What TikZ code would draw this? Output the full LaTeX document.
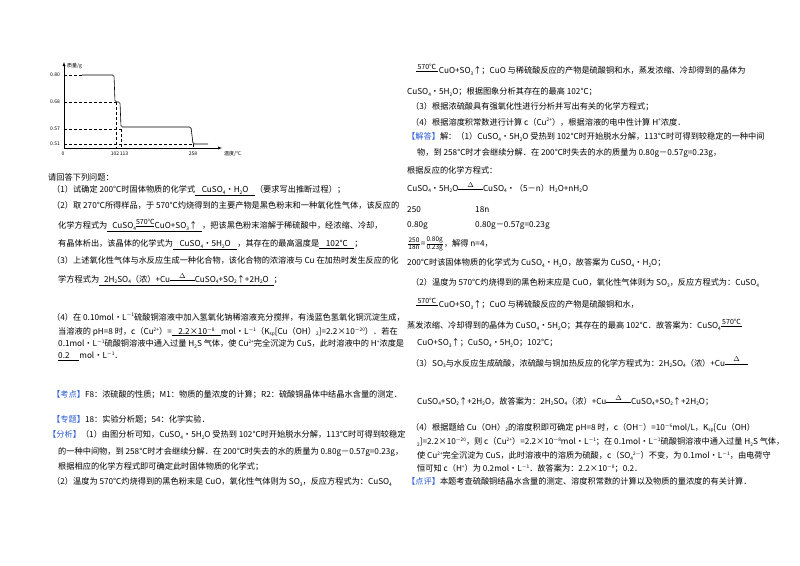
\documentclass[tikz,border=0pt]{standalone}
\usepackage{fontspec}
\setmainfont{Noto Sans CJK SC}
\definecolor{kblue}{RGB}{40,90,210}
\newcommand\sbs[1]{\raisebox{-0.35ex}{\fontsize{4.8}{5}\selectfont #1}}
\newcommand\sps[1]{\raisebox{0.7ex}{\fontsize{4.8}{5}\selectfont #1}}
\newcommand\rxn[2]{\ensuremath{\mathrel{\mathop{\rule[0.4ex]{#2}{0.4pt}}\limits^{\mbox{\fontsize{7}{7}\selectfont #1}}}}}
\newcommand\ul[1]{\underline{\hspace{0.8em}#1\hspace{0.8em}}}
\newcommand\kw[1]{\textcolor{kblue}{#1}}
\begin{document}
\begin{tikzpicture}[x=1pt,y=-1pt,
  t/.style={anchor=west,inner sep=0pt,font=\fontsize{8.2}{9}\selectfont},
  lab/.style={inner sep=0pt,font=\fontsize{5}{5}\selectfont},
  dsh/.style={densely dashed,line width=0.3pt},
  crv/.style={line width=0.6pt,rounded corners=1.5pt}]
\useasboundingbox[fill=white] (0,0) rectangle (800,565);
% graph
\coordinate (O) at (64,148);
\coordinate (yt) at (64,62);
\coordinate (xr) at (222,148);
\draw[-latex,line width=0.4pt] (O) -- (yt);
\draw[-latex,line width=0.4pt] (O) -- (xr);
\node[lab,anchor=west] (ylab) at (67,66) {质量/g};
\node[lab,anchor=north west] (xlab) at (224,151) {温度/℃};
\node[lab,anchor=east] (l80) at (60,75) {0.80};
\node[lab,anchor=east] (l68) at (60,102) {0.68};
\node[lab,anchor=east] (l57) at (60,129) {0.57};
\node[lab,anchor=east] (l51) at (60,144) {0.51};
\node[lab] (x0) at (63,154) {0};
\node[lab] (x102) at (115,154) {102};
\node[lab] (x113) at (124,154) {113};
\node[lab] (x258) at (193,154) {258};
\draw[dsh] (64,75) -- (82,75);
\draw[dsh] (64,102) -- (116,102);
\draw[dsh] (64,129) -- (121,129);
\draw[dsh] (64,144) -- (193,144);
\draw[dsh] (116,102) -- (116,148);
\draw[dsh] (121,129) -- (121,148);
\draw[dsh] (193,144) -- (193,148);
\draw[crv] (82,75) -- (114,75) -- (115,102) -- (120,102) -- (121,127) -- (191,127) -- (193,144) -- (208,144);
% left column
\node[t] (a1) at (48,177) {请回答下列问题：};
\node[t] (a2) at (52,191) {（1）试确定 200℃时固体物质的化学式\ul{CuSO\sbs{4}•H\sbs{2}O}（要求写出推断过程）；};
\node[t] (a3) at (52,205) {（2）取 270℃所得样品，于 570℃灼烧得到的主要产物是黑色粉末和一种氧化性气体，该反应的};
\node[t] (a4) at (58,225) {化学方程式为\underline{\hspace{0.6em}CuSO\sbs{4}\rxn{570℃}{2.2em}CuO+SO\sbs{3}↑\hspace{0.6em}}，把该黑色粉末溶解于稀硫酸中，经浓缩、冷却，};
\node[t] (a5) at (58,245) {有晶体析出，该晶体的化学式为\ul{CuSO\sbs{4}•5H\sbs{2}O}，其存在的最高温度是\ul{102℃}；};
\node[t] (a6) at (52,260) {（3）上述氧化性气体与水反应生成一种化合物，该化合物的浓溶液与 Cu 在加热时发生反应的化};
\node[t] (a7) at (58,279) {学方程式为\underline{\hspace{0.6em}2H\sbs{2}SO\sbs{4}（浓）+Cu\rxn{$\Delta$}{3em}CuSO\sbs{4}+SO\sbs{2}↑+2H\sbs{2}O\hspace{0.6em}}；};
\node[t] (a8) at (52,317) {（4）在 0.10mol•L\sps{－1}硫酸铜溶液中加入氢氧化钠稀溶液充分搅拌，有浅蓝色氢氧化铜沉淀生成，};
\node[t] (a9) at (58,332) {当溶液的 pH=8 时，c（Cu\sps{2+}）=\ul{2.2×10\sps{－8}}mol•L\sps{－1}（K\sbs{sp}[Cu（OH）\sbs{2}]=2.2×10\sps{－20}）．若在};
\node[t] (a10) at (58,344) {0.1mol•L\sps{－1}硫酸铜溶液中通入过量 H\sbs{2}S 气体，使 Cu\sps{2+}完全沉淀为 CuS，此时溶液中的 H\sps{+}浓度是};
\node[t] (a11) at (58,356) {\underline{0.2\hspace{1.2em}}mol•L\sps{－1}．};
\node[t] (a12) at (52,395) {\kw{【考点】}F8：浓硫酸的性质；M1：物质的量浓度的计算；R2：硫酸铜晶体中结晶水含量的测定．};
\node[t] (a13) at (52,420) {\kw{【专题】}18：实验分析题；54：化学实验．};
\node[t] (a14) at (48,435) {\kw{【分析】}（1）由图分析可知，CuSO\sbs{4}•5H\sbs{2}O 受热到 102℃时开始脱水分解，113℃时可得到较稳定};
\node[t] (a15) at (58,452) {的一种中间物，到 258℃时才会继续分解．在 200℃时失去的水的质量为 0.80g－0.57g=0.23g，};
\node[t] (a16) at (58,467) {根据相应的化学方程式即可确定此时固体物质的化学式；};
\node[t] (a17) at (52,482) {（2）温度为 570℃灼烧得到的黑色粉末是 CuO，氧化性气体则为 SO\sbs{3}，反应方程式为：CuSO\sbs{4}};
% right column
\node[t] (b1) at (416,69) {\rxn{570℃}{2.6em}\,CuO+SO\sbs{3}↑；CuO 与稀硫酸反应的产物是硫酸铜和水，蒸发浓缩、冷却得到的晶体为};
\node[t] (b2) at (407,92) {CuSO\sbs{4}•5H\sbs{2}O；根据图象分析其存在的最高 102℃；};
\node[t] (b3) at (411,107) {（3）根据浓硫酸具有强氧化性进行分析并写出有关的化学方程式；};
\node[t] (b4) at (411,122) {（4）根据溶度积常数进行计算 c（Cu\sps{2+}），根据溶液的电中性计算 H\sps{+}浓度．};
\node[t] (b5) at (407,137) {\kw{【解答】}解：（1）CuSO\sbs{4}•5H\sbs{2}O 受热到 102℃时开始脱水分解，113℃时可得到较稳定的一种中间};
\node[t] (b6) at (417,153) {物，到 258℃时才会继续分解．在 200℃时失去的水的质量为 0.80g－0.57g=0.23g，};
\node[t] (b7) at (407,170) {根据反应的化学方程式：};
\node[t] (b8) at (407,187) {CuSO\sbs{4}•5H\sbs{2}O\rxn{$\Delta$}{3em}CuSO\sbs{4}•（5－n）H\sbs{2}O+nH\sbs{2}O};
\node[t] (b9) at (407,210) {250};
\node[t] (b10) at (475,210) {18n};
\node[t] (b11) at (407,226) {0.80g};
\node[t] (b12) at (475,226) {0.80g－0.57g=0.23g};
\node[t] (b13) at (407,244) {$\frac{\mbox{\fontsize{6.5}{6.5}\selectfont 250}}{\mbox{\fontsize{6.5}{6.5}\selectfont 18n}}$=$\frac{\mbox{\fontsize{6.5}{6.5}\selectfont 0.80g}}{\mbox{\fontsize{6.5}{6.5}\selectfont 0.23g}}$，解得 n=4，};
\node[t] (b14) at (407,263) {200℃时该固体物质的化学式为 CuSO\sbs{4}•H\sbs{2}O，故答案为 CuSO\sbs{4}•H\sbs{2}O；};
\node[t] (b15) at (411,283) {（2）温度为 570℃灼烧得到的黑色粉末应是 CuO，氧化性气体则为 SO\sbs{3}，反应方程式为：CuSO\sbs{4}};
\node[t] (b16) at (416,303) {\rxn{570℃}{2.6em}\,CuO+SO\sbs{3}↑；CuO 与稀硫酸反应的产物是硫酸铜和水，};
\node[t] (b17) at (407,324) {蒸发浓缩、冷却得到的晶体为 CuSO\sbs{4}•5H\sbs{2}O；其存在的最高 102℃．故答案为：CuSO\sbs{4}\rxn{570℃}{2.6em}};
\node[t] (b18) at (417,343) {CuO+SO\sbs{3}↑；CuSO\sbs{4}•5H\sbs{2}O；102℃；};
\node[t] (b19) at (411,362) {（3）SO\sbs{3}与水反应生成硫酸，浓硫酸与铜加热反应的化学方程式为：2H\sbs{2}SO\sbs{4}（浓）+Cu\rxn{$\Delta$}{2.8em}};
\node[t] (b20) at (417,400) {CuSO\sbs{4}+SO\sbs{2}↑+2H\sbs{2}O，故答案为：2H\sbs{2}SO\sbs{4}（浓）+Cu\rxn{$\Delta$}{3em}CuSO\sbs{4}+SO\sbs{2}↑+2H\sbs{2}O；};
\node[t] (b21) at (411,428) {（4）根据题给 Cu（OH）\sbs{2}的溶度积即可确定 pH=8 时，c（OH\sps{－}）=10\sps{－6}mol/L，K\sbs{sp}[Cu（OH）};
\node[t] (b22) at (417,442) {\sbs{2}]=2.2×10\sps{－20}，则 c（Cu\sps{2+}）=2.2×10\sps{－8}mol•L\sps{－1}；在 0.1mol•L\sps{－1}硫酸铜溶液中通入过量 H\sbs{2}S 气体，};
\node[t] (b23) at (417,456) {使 Cu\sps{2+}完全沉淀为 CuS，此时溶液中的溶质为硫酸，c（SO\sbs{4}\sps{2－}）不变，为 0.1mol•L\sps{－1}，由电荷守};
\node[t] (b24) at (417,469) {恒可知 c（H\sps{+}）为 0.2mol•L\sps{－1}．故答案为：2.2×10\sps{－8}；0.2．};
\node[t] (b25) at (407,481) {\kw{【点评】}本题考查硫酸铜结晶水含量的测定、溶度积常数的计算以及物质的量浓度的有关计算．};
\end{tikzpicture}
\end{document}
